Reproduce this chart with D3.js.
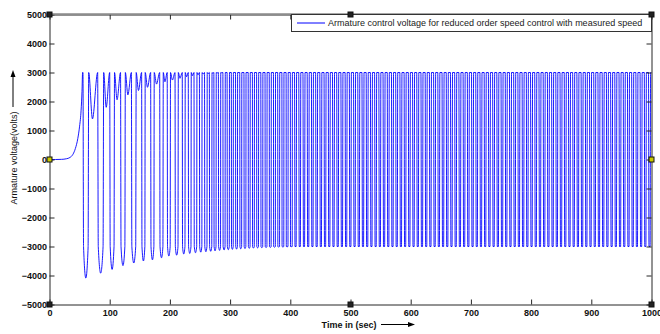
<!DOCTYPE html>
<html><head><meta charset="utf-8">
<script src="https://cdn.jsdelivr.net/npm/d3@7"></script>
<style>
body{margin:0;background:#fff;}
svg{display:block;}
text{font-family:"Liberation Sans",Arial,Helvetica,sans-serif;}
</style>
</head><body>
<svg id="c" width="660" height="334"></svg>
<script>
// ---------------- data ----------------
const xTicks = [0, 100, 200, 300, 400, 500, 600, 700, 800, 900, 1000];
const yTicks = [-5000, -4000, -3000, -2000, -1000, 0, 1000, 2000, 3000, 4000, 5000];
const legendLabel = "Armature control voltage for reduced order speed control with measured speed";
const xLabel = "Time in (sec)";
const yLabel = "Armature voltage(volts)";

// initial exponential rise before switching starts
const riseT = [0, 10, 20, 28, 34, 39, 43, 47, 50, 52.5, 54, 55];
const riseV = [0, 0, 5, 25, 70, 180, 380, 720, 1150, 1700, 2350, 3000];

// time of each downward switching edge (sec)
const pulseStart = [55.6, 80, 100, 118, 136, 153, 168, 183, 195.5, 208.5, 220.5, 230.5,
  240, 249, 257.5, 265.5, 273, 280.5, 288, 295, 302,
  309, 316, 323, 330, 337, 344, 351, 358, 365, 372, 379, 386, 393, 400, 407, 414,
  421, 428, 435, 442, 449, 456, 463, 470, 477, 484, 491, 498, 505, 512, 519, 526,
  533, 540, 547, 554, 561, 568, 575, 582, 589, 596, 603, 610, 617, 624, 631, 638,
  645, 652, 659, 666, 673, 680, 687, 694, 701, 708, 715, 722, 729, 736, 743, 750,
  757, 764, 771, 778, 785, 792, 799, 806, 813, 820, 827, 834, 841, 848, 855, 862,
  869, 876, 883, 890, 897, 904, 911, 918, 925, 932, 939, 946, 953, 960, 967, 974,
  981, 988, 995];
// duration of the negative part of the early pulses (sec)
const pulseWidth = [9.5, 10, 8, 8, 8, 6, 6, 6, 5.5, 5.5, 5, 5,
  5, 4.5, 4.5, 4.5, 4, 4, 4, 4, 3.5];
// minimum of the early negative pulses (volts)
const pulseLow = [-4090, -3920, -3790, -3660, -3570, -3500, -3460, -3390, -3330, -3300, -3260, -3240,
  -3215, -3195, -3180, -3165, -3150, -3135, -3120, -3110, -3100, -3090, -3080, -3070,
  -3062, -3055, -3048, -3042, -3036, -3030, -3025, -3020, -3015, -3010, -3005];
// minimum of the dip in the positive part following each early pulse (volts)
const valleyLow = [1400, 1800, 2060, 2230, 2380, 2490, 2600, 2680, 2740, 2800, 2850, 2890,
  2920, 2945, 2960, 2975, 2985, 2992];
const steadyHigh = 3000, steadyLow = -3000, steadyWidth = 3.5, edgeTime = 0.8;

// ---------------- layout ----------------
const svg = d3.select("#c");
const L = 49.5, R = 651.5, T = 14.5, B = 304.5;
const x = d3.scaleLinear().domain([0, 1000]).range([L, R]);
const y = d3.scaleLinear().domain([-5000, 5000]).range([B, T]);

// build polyline from the read values
const pts = riseT.map((t, i) => [t, riseV[i]]);
pulseStart.forEach((s, k) => {
  const w = k < pulseWidth.length ? pulseWidth[k] : steadyWidth;
  const lo = k < pulseLow.length ? pulseLow[k] : steadyLow;
  if (pts[pts.length - 1][0] < s) pts.push([s, steadyHigh]);
  if (lo < steadyLow) {
    pts.push([s + 0.1 * w, steadyLow]);
    pts.push([s + 0.5 * w, lo]);
    pts.push([s + 0.9 * w, steadyLow]);
  } else {
    pts.push([s + edgeTime, steadyLow]);
    pts.push([s + w - edgeTime, steadyLow]);
  }
  const e = s + w;
  pts.push([e, steadyHigh]);
  const next = k + 1 < pulseStart.length ? pulseStart[k + 1] : 1000;
  const v = k < valleyLow.length ? valleyLow[k] : steadyHigh;
  if (v < steadyHigh) pts.push([e + 0.42 * (next - e), v]);
});
if (pts[pts.length - 1][0] < 1000) pts.push([1000, steadyHigh]);

svg.append("rect").attr("x", 0).attr("y", 0).attr("width", 660).attr("height", 334).attr("fill", "#fff");
svg.append("defs").append("clipPath").attr("id", "clip")
  .append("rect").attr("x", L).attr("y", T - 1).attr("width", R - L).attr("height", B - T + 2);

const line = d3.line().x(d => x(d[0])).y(d => y(d[1])).curve(d3.curveMonotoneX);
svg.append("path").datum(pts).attr("clip-path", "url(#clip)")
  .attr("d", line).attr("fill", "none").attr("stroke", "#0000ff").attr("stroke-width", 0.9);

// axes
const fmt = d3.format("d");
const axCol = "#262626";
function style(g) {
  g.selectAll("path").attr("stroke", axCol);
  g.selectAll("line").attr("stroke", axCol);
  g.selectAll("text").attr("fill", "#111").style("font-size", "9px").style("font-weight", "bold")
    .style("font-family", "'Liberation Sans',Arial,sans-serif");
}
svg.append("g").attr("transform", `translate(0,${B})`)
  .call(d3.axisBottom(x).tickValues(xTicks).tickFormat(fmt).tickSize(-5).tickSizeOuter(0).tickPadding(5))
  .call(style);
svg.append("g").attr("transform", `translate(${L},0)`)
  .call(d3.axisLeft(y).tickValues(yTicks).tickFormat(fmt).tickSize(-5).tickSizeOuter(0).tickPadding(2.5))
  .call(style);
svg.append("g").attr("transform", `translate(0,${T})`)
  .call(d3.axisTop(x).tickValues(xTicks).tickFormat("").tickSize(-5).tickSizeOuter(0))
  .call(style);
svg.append("g").attr("transform", `translate(${R},0)`)
  .call(d3.axisRight(y).tickValues(yTicks).tickFormat("").tickSize(-5).tickSizeOuter(0))
  .call(style);
// top border appears gray and heavier
svg.append("line").attr("x1", L).attr("x2", R).attr("y1", T - 0.5).attr("y2", T - 0.5)
  .attr("stroke", "#8a8a8a").attr("stroke-width", 1.5);

// legend
const lg = svg.append("g");
lg.append("rect").attr("x", 291.5).attr("y", T).attr("width", R - 291.5).attr("height", 17)
  .attr("fill", "#fff").attr("stroke", "#333").attr("stroke-width", 1);
lg.append("line").attr("x1", 297).attr("x2", 325).attr("y1", 23).attr("y2", 23)
  .attr("stroke", "#0000ff").attr("stroke-width", 1);
lg.append("text").attr("x", 328).attr("y", 26.3).text(legendLabel)
  .style("font-size", "9px").attr("fill", "#1a1a1a");

// axis labels with arrows
svg.append("text").attr("transform", "translate(16.5,158) rotate(-90)").attr("text-anchor", "middle")
  .text(yLabel).style("font-size", "9px").attr("fill", "#111");
svg.append("line").attr("x1", 13).attr("x2", 13).attr("y1", 107).attr("y2", 76).attr("stroke", "#000").attr("stroke-width", 1);
svg.append("path").attr("d", "M13,70 L10.5,77 L15.5,77 Z").attr("fill", "#000");

svg.append("text").attr("x", 349).attr("y", 327.5).attr("text-anchor", "middle")
  .text(xLabel).style("font-size", "9px").style("font-weight", "bold").attr("fill", "#111");
svg.append("line").attr("x1", 381).attr("x2", 409).attr("y1", 324.5).attr("y2", 324.5).attr("stroke", "#000").attr("stroke-width", 1);
svg.append("path").attr("d", "M415,324.5 L408,322 L408,327 Z").attr("fill", "#000");

// selection handles (figure editing marks)
const hx = [L, (L + R) / 2, R];
const hy = [T, (T + B) / 2, B];
const handles = [];
hx.forEach((a, i) => hy.forEach((b, j) => { if (!(i === 1 && j === 1)) handles.push([a, b, j === 1]); }));
svg.selectAll("rect.h").data(handles).enter().append("rect").attr("class", "h")
  .attr("x", d => d[0] - 2.5).attr("y", d => d[1] - 2.5).attr("width", 5).attr("height", 5)
  .attr("fill", d => d[2] ? "#c8c800" : "#222").attr("stroke", "#111").attr("stroke-width", 1);
</script>
</body></html>
